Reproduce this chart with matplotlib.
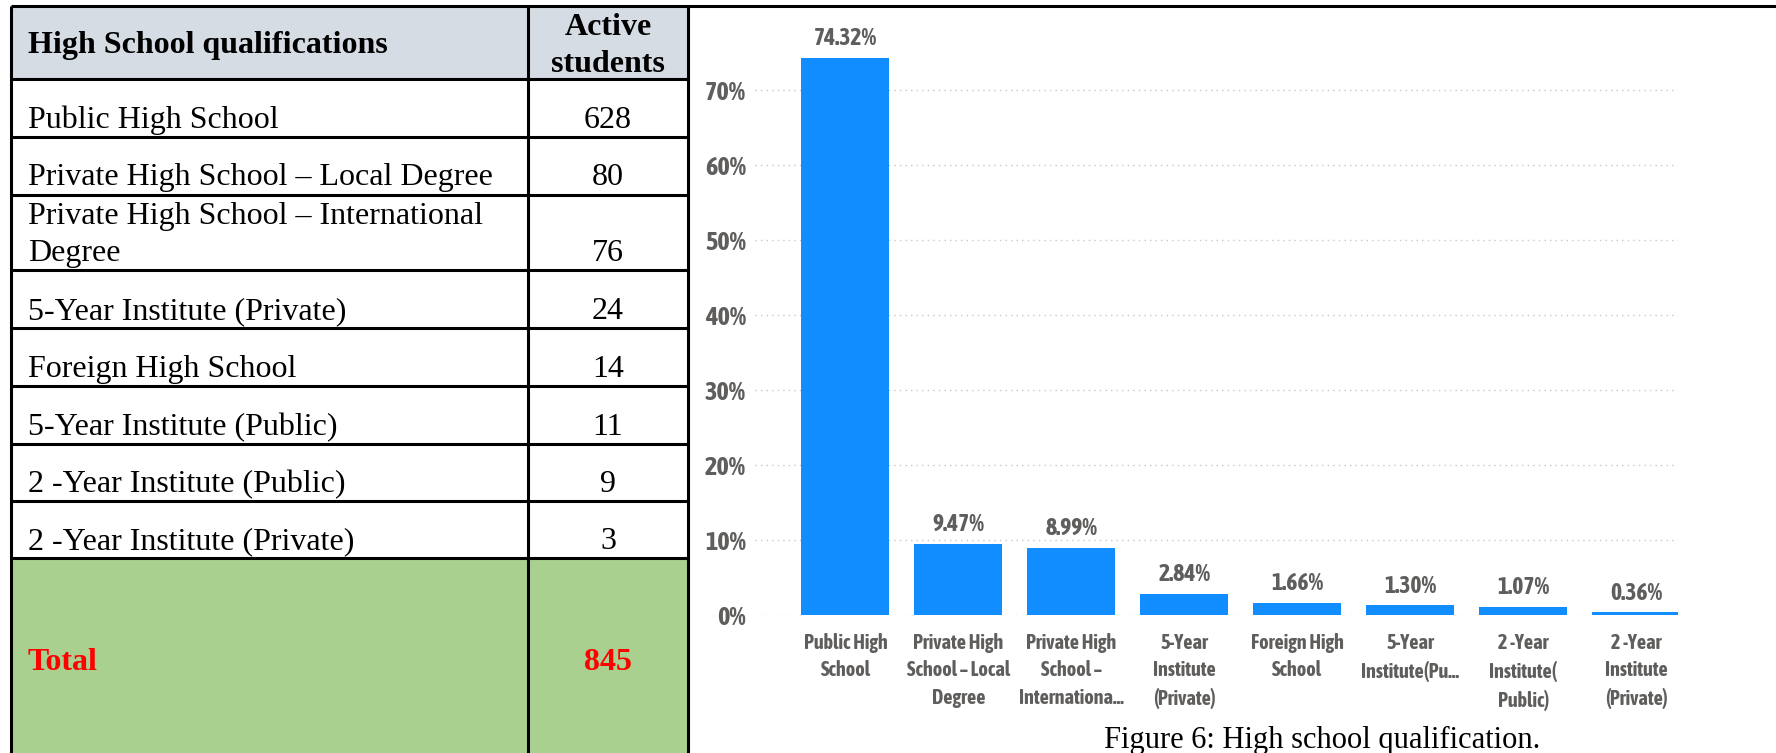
import matplotlib
matplotlib.use("Agg")
import matplotlib.pyplot as plt
from matplotlib.patches import Rectangle

# table data
table_header = ["High School qualifications", "Active\nstudents"]
qualifications = ["Public High School",
                  "Private High School \u2013 Local Degree",
                  "Private High School \u2013 International\nDegree",
                  "5-Year Institute (Private)",
                  "Foreign High School",
                  "5-Year Institute (Public)",
                  "2 -Year Institute (Public)",
                  "2 -Year Institute (Private)"]
active_students = [628, 80, 76, 24, 14, 11, 9, 3]
total_label = "Total"
total_value = 845

# chart data
bar_labels = ["Public High\nSchool",
              "Private High\nSchool \u2013 Local\nDegree",
              "Private High\nSchool \u2013\nInternationa...",
              "5-Year\nInstitute\n(Private)",
              "Foreign High\nSchool",
              "5-Year\nInstitute(Pu...",
              "2 -Year\nInstitute(\nPublic)",
              "2 -Year\nInstitute\n(Private)"]
pct = [74.32, 9.47, 8.99, 2.84, 1.66, 1.30, 1.07, 0.36]
yticks = [0, 10, 20, 30, 40, 50, 60, 70]
caption = "Figure 6: High school qualification."

W, H = 1776, 753
fig = plt.figure(figsize=(W / 100, H / 100), dpi=100)

# ---- table, drawn in pixel coords on a full-figure axes
tab = fig.add_axes([0, 0, 1, 1])
tab.set_xlim(0, W)
tab.set_ylim(H, 0)
tab.axis("off")

serif = ["Liberation Serif", "DejaVu Serif"]
fs = 23
x0, xmid, x1 = 11, 528, 688
row_edges = [6, 79, 137, 195, 270, 328, 386, 444, 501, 558, H]
baselines = [128, 185, 224, 319, 377, 435, 492, 549]

tab.add_patch(Rectangle((x0, row_edges[0]), x1 - x0, row_edges[1] - row_edges[0],
                        facecolor="#D6DCE4", edgecolor="none"))
tab.add_patch(Rectangle((x0, row_edges[-2]), x1 - x0, H - row_edges[-2],
                        facecolor="#A9D08E", edgecolor="none"))

lw = 2.2
tab.plot([x0, W], [row_edges[0], row_edges[0]], color="black", lw=lw, solid_capstyle="butt")
for y in row_edges[1:-1]:
    tab.plot([x0, x1], [y, y], color="black", lw=lw, solid_capstyle="butt")
for x in (x0, xmid, x1):
    tab.plot([x, x], [row_edges[0], H], color="black", lw=lw, solid_capstyle="butt")

tab.text(28, 53, table_header[0], family=serif, fontsize=fs, fontweight="bold", va="baseline")
h2 = table_header[1].split("\n")
tab.text(608, 35, h2[0], family=serif, fontsize=fs, fontweight="bold", va="baseline", ha="center")
tab.text(608, 72, h2[1], family=serif, fontsize=fs, fontweight="bold", va="baseline", ha="center")

for name, n, b in zip(qualifications, active_students, baselines):
    lines = name.split("\n")
    if len(lines) == 2:
        tab.text(28, b, lines[0], family=serif, fontsize=fs, va="baseline")
        tab.text(28, b + 37, lines[1], family=serif, fontsize=fs, va="baseline")
        nb = b + 37
    else:
        tab.text(28, b, name, family=serif, fontsize=fs, va="baseline")
        nb = b
    tab.text(608, nb, str(n), family=serif, fontsize=fs, va="baseline", ha="center")

tab.text(28, 670, total_label, family=serif, fontsize=fs, fontweight="bold",
         color="#FF0000", va="baseline")
tab.text(608, 670, str(total_value), family=serif, fontsize=fs, fontweight="bold",
         color="#FF0000", va="baseline", ha="center")

tab.text(1322, 748, caption, family=serif, fontsize=22, ha="center", va="baseline")

# ---- bar chart
sans = ["Asap Condensed", "DejaVu Sans"]
txt = "#605E5C"
left, right, zero_y, top_y = 755, 1678, 615, 15
ax = fig.add_axes([left / W, (H - zero_y) / H, (right - left) / W, (zero_y - top_y) / H])
ax.patch.set_alpha(0)
xs = list(range(len(pct)))
bars = ax.bar(xs, pct, width=0.78, color="#118DFF", zorder=3)
ax.set_xlim(-0.8, 7.37)
ax.set_ylim(0, 80)
ax.set_yticks(yticks)
ax.set_yticklabels([f"{v}%" for v in yticks], family=sans, fontsize=19,
                   fontweight="bold", color=txt)
ax.set_xticks(xs)
ax.set_xticklabels(bar_labels, family=sans, fontsize=14.5, fontweight="bold",
                   color=txt, linespacing=1.46, va="top")
ax.tick_params(axis="both", length=0)
ax.tick_params(axis="y", pad=6.5)
ax.tick_params(axis="x", pad=13)
for s in ax.spines.values():
    s.set_visible(False)
ax.yaxis.grid(True, linestyle=(0, (1, 3)), color="#C8C8C8", lw=1)
ax.set_axisbelow(True)

for b, v in zip(bars, pct):
    ax.annotate(f"{v:.2f}%", (b.get_x() + b.get_width() / 2, b.get_height()),
                xytext=(0, 9), textcoords="offset points", ha="center", va="baseline",
                family=sans, fontsize=17, fontweight="bold", color=txt)

fig.savefig("out.png", dpi=100)
